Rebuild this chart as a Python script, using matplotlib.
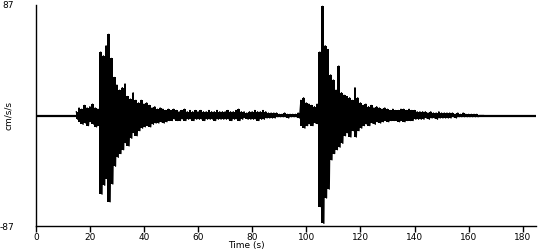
import numpy as np
import matplotlib
matplotlib.use("Agg")
import matplotlib.pyplot as plt

# Envelope of the accelerogram, one sample per second
# starting at 15 s (cm/s/s)
start_time = 15
upper = [3, 6, 5, 8, 6, 7, 9, 6, 5,
         50, 47, 55, 64, 45, 30, 24, 20, 22, 25, 15, 13, 18, 12, 10,
         12, 9, 10, 8, 6, 7, 5, 6, 5, 4, 5,
         4, 5, 4, 3, 4, 5, 3, 4, 3, 4,
         3, 4, 3, 3, 4, 3, 3, 4, 3, 3,
         3, 4, 3, 3, 4, 5, 3, 3, 2, 3,
         3, 4, 3, 3, 4, 3, 2, 2, 2, 2,
         1, 1, 2, 1, 1, 1, 1,
         2, 12, 14, 10, 9, 8, 7, 9,
         50, 86, 55, 52, 32, 28, 20, 39, 18, 16, 15, 14, 12, 22, 14,
         10, 8, 9, 7, 8, 6, 7, 6, 5, 6, 5, 4,
         5, 4, 4, 5, 5, 4, 5, 4, 4, 3,
         3, 3, 3, 2, 3, 2, 2, 3, 2, 2,
         2, 2, 2, 1, 2, 1, 2, 1, 1, 1,
         1, 1, 0, 0]
lower = [-3, -5, -7, -6, -8, -5, -7, -9, -8,
         -62, -55, -50, -68, -54, -40, -33, -30, -27, -22, -24, -18, -14, -16, -12,
         -10, -9, -8, -9, -7, -6, -6, -5, -6, -5, -4,
         -4, -3, -4, -4, -3, -4, -3, -3, -4, -3,
         -3, -3, -4, -3, -3, -3, -4, -3, -3, -3,
         -3, -3, -4, -3, -3, -4, -3, -2, -3, -3,
         -3, -3, -4, -3, -3, -2, -2, -2, -2, -1,
         -1, -1, -1, -2, -1, -1, -1,
         -2, -8, -10, -8, -7, -8, -6, -7,
         -72, -85, -65, -58, -35, -30, -27, -25, -22, -16, -14, -17, -12, -17, -12,
         -10, -8, -7, -8, -6, -7, -5, -6, -5, -4, -5, -4,
         -4, -4, -5, -4, -5, -4, -4, -4, -3, -3,
         -3, -3, -2, -3, -2, -2, -3, -2, -2, -2,
         -2, -2, -1, -2, -1, -1, -1, -1, -1, -1,
         -1, -1, 0, 0]

x_ticks = [0, 20, 40, 60, 80, 100, 120, 140, 160, 180]
y_max = 87
t_end = 185

t = start_time + np.arange(len(upper))
# zig-zag between the upper and lower readings
wave_t = np.ravel(np.column_stack([t, t + 0.5]))
wave_a = np.ravel(np.column_stack([upper, lower]))

fig = plt.figure(figsize=(5.5, 2.5), dpi=100)
ax = fig.add_axes([0.065, 0.096, 0.91, 0.884])

ax.plot([0, t_end], [0, 0], color="black", lw=1.6)
ax.fill_between(t, lower, upper, step="mid", color="black", lw=0)
ax.plot(wave_t, wave_a, color="black", lw=0.9)

ax.set_xlim(0, t_end)
ax.set_ylim(-y_max, y_max)
ax.set_xticks(x_ticks)
ax.set_yticks([-y_max, y_max])
ax.set_yticklabels(["-87", "87"])

for s in ["top", "right"]:
    ax.spines[s].set_visible(False)
ax.spines["left"].set_linewidth(1.0)
ax.spines["bottom"].set_linewidth(1.0)

ax.tick_params(axis="x", length=4, width=1, pad=1, labelsize=6.5)
ax.tick_params(axis="y", length=0, pad=15.5, labelsize=6.5)

ax.set_xlabel("Time (s)", fontsize=6.5, labelpad=0)
ax.xaxis.set_label_coords(0.42, -0.07)
ax.set_ylabel("cm/s/s", fontsize=6.5)
ax.yaxis.set_label_coords(-0.045, 0.5)

fig.savefig("out.png", dpi=100)
